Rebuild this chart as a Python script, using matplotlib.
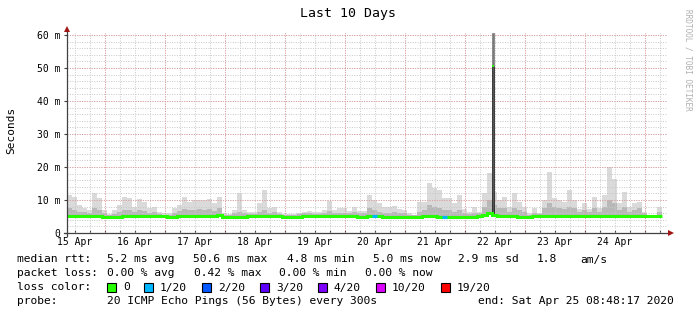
import datetime
import numpy as np
import matplotlib
matplotlib.use("Agg")
from matplotlib import pyplot as plt
from matplotlib.lines import Line2D
from matplotlib.patches import Rectangle

W, H = 697, 315
MONO = "DejaVu Sans Mono"

# probe window: 10 days ending at this time, values consolidated in 2 hour bins
end_time = datetime.datetime(2020, 4, 25, 8, 48, 17)
span_hours = 240
bin_hours = 2.0

# upper edge of the smoke (slowest ping of the bin), ms
smoke_top_ms = [
    11.5, 10.8, 8.5, 7.5, 7.0, 12.2, 10.5, 7.0, 5.8, 7.0,
    8.5, 10.8, 10.5, 8.0, 10.2, 9.5, 7.5, 7.8, 6.5, 6.0,
    6.0, 7.5, 8.5, 10.8, 9.5, 10.0, 10.0, 10.0, 10.2, 9.0,
    10.8, 6.0, 5.8, 7.0, 12.0, 7.0, 6.5, 6.5, 9.0, 13.0,
    7.5, 8.0, 6.5, 5.8, 5.8, 5.8, 6.2, 6.5, 6.8, 6.5,
    6.5, 7.0, 9.8, 7.0, 7.5, 7.5, 6.8, 7.8, 6.7, 6.8,
    11.5, 10.0, 9.0, 8.0, 7.8, 8.2, 7.2, 7.0, 6.0, 5.6,
    9.5, 9.5, 15.0, 13.5, 13.0, 10.5, 10.5, 9.0, 11.5, 7.2,
    6.5, 7.8, 6.5, 12.0, 18.3, 12.5, 10.0, 11.0, 7.8, 12.0,
    9.5, 8.0, 6.0, 7.5, 6.0, 10.0, 18.5, 10.5, 10.0, 9.5,
    13.0, 10.0, 7.2, 9.0, 7.2, 10.8, 7.5, 11.5, 20.0, 16.5,
    9.0, 12.5, 7.8, 9.0, 9.5, 6.5, 5.6, 5.6, 8.0,
]

# upper edge of the denser (darker) part of the smoke, ms
smoke_mid_ms = [
    7.5, 7.0, 6.5, 6.5, 6.2, 7.5, 7.0, 6.0, 5.5, 5.8,
    6.5, 7.0, 7.0, 6.5, 7.0, 6.8, 6.2, 6.5, 5.8, 5.6,
    5.6, 6.2, 6.8, 7.2, 7.0, 7.0, 7.2, 7.0, 7.2, 6.8,
    7.5, 5.6, 5.5, 6.0, 6.5, 6.0, 5.8, 5.8, 6.5, 7.0,
    6.2, 6.5, 5.8, 5.5, 5.5, 5.5, 5.8, 6.0, 6.0, 5.8,
    5.8, 6.0, 6.8, 6.0, 6.2, 6.2, 6.0, 6.5, 6.0, 6.0,
    7.5, 7.0, 6.5, 6.2, 6.2, 6.5, 6.0, 6.0, 5.5, 5.4,
    6.5, 7.0, 8.5, 8.0, 7.5, 7.0, 7.0, 6.5, 7.0, 6.0,
    5.8, 6.2, 6.0, 8.0, 10.0, 8.5, 7.5, 7.5, 6.5, 7.5,
    7.0, 6.5, 5.6, 6.2, 5.8, 7.5, 9.0, 8.0, 7.5, 7.2,
    8.0, 7.5, 6.5, 7.0, 6.5, 7.5, 6.5, 8.0, 10.0, 9.0,
    7.0, 8.0, 6.5, 7.0, 7.5, 6.0, 5.4, 5.4, 6.5,
]

# median rtt per bin, ms
median_ms = [
    5.0, 5.0, 5.1, 5.1, 5.1, 5.2, 5.1, 4.8, 4.7, 4.7,
    4.9, 5.1, 5.1, 5.1, 5.0, 5.1, 5.0, 5.0, 5.0, 5.0,
    4.8, 4.9, 5.0, 5.0, 5.0, 5.0, 5.1, 5.1, 5.1, 5.2,
    5.6, 4.9, 4.8, 4.8, 4.9, 4.9, 5.0, 5.0, 5.1, 5.1,
    5.0, 5.0, 5.0, 4.9, 4.9, 4.9, 4.9, 5.0, 5.0, 5.1,
    5.1, 5.2, 5.2, 5.1, 5.1, 5.0, 5.0, 5.0, 4.9, 4.9,
    5.0, 5.0, 5.0, 4.9, 4.9, 4.9, 4.9, 4.8, 4.8, 4.8,
    4.9, 5.0, 5.0, 5.0, 4.9, 4.9, 4.8, 4.8, 4.9, 4.8,
    4.8, 4.8, 5.0, 5.6, 6.0, 5.5, 5.1, 5.0, 5.0, 5.0,
    4.9, 4.9, 4.9, 5.0, 5.0, 5.2, 5.3, 5.3, 5.3, 5.3,
    5.2, 5.1, 5.0, 5.0, 5.0, 5.1, 5.1, 5.3, 5.3, 5.2,
    5.1, 5.0, 5.0, 5.1, 5.3, 5.0, 5.0, 5.0, 5.0,
]

# bins with packet loss: (bin index, lost pings out of 20)
loss_events = [(61, 1), (75, 1)]

# the big spike on 22 Apr
spike_hour = 170.3
spike_top_ms = 60.5
spike_median_ms = 50.6

loss_levels = ["0", "1/20", "2/20", "3/20", "4/20", "10/20", "19/20"]
loss_colors = ["#26ff00", "#00b8ff", "#0059ff", "#5e00ff", "#7e00ff", "#dd00ff", "#ff0000"]
loss_of = {0: 0, 1: 1, 2: 2, 3: 3, 4: 4, 10: 5, 19: 6}

y_ticks = [0, 10, 20, 30, 40, 50, 60]
y_tick_labels = ["0", "10 m", "20 m", "30 m", "40 m", "50 m", "60 m"]


def px(x, y):
    return x / W, 1 - y / H


fig = plt.figure(figsize=(W / 100, H / 100), dpi=100)
fig.patch.set_facecolor("white")
ax = fig.add_axes([67 / W, (H - 233) / H, 600 / W, 200 / H])
ax.set_xlim(0, span_hours)
ax.set_ylim(0, 60.6)

edges = np.arange(len(smoke_top_ms) + 1) * bin_hours
med = np.array(median_ms)
ax.stairs(smoke_top_ms, edges, baseline=med, fill=True, color="#dadada", lw=0, zorder=1)
ax.stairs(smoke_mid_ms, edges, baseline=med, fill=True, color="#b8b8b8", lw=0, zorder=1.1)

# spike column
ax.add_patch(Rectangle((spike_hour - 0.5, 5.0), 1.0, spike_median_ms - 5.0,
                       facecolor="#555555", edgecolor="#111111", lw=0.5, zorder=3))
ax.add_patch(Rectangle((spike_hour - 0.5, spike_median_ms), 1.0, spike_top_ms - spike_median_ms,
                       facecolor="#7a7a7a", edgecolor="#666666", lw=0.4, zorder=3))

# grid: midnights major, 6 hours minor
start = end_time - datetime.timedelta(hours=span_hours)
first_midnight = (datetime.datetime(start.year, start.month, start.day) + datetime.timedelta(days=1) - start)
h0 = first_midnight.total_seconds() / 3600
majors = np.arange(h0, span_hours, 24)
minors = np.arange(h0 - 12, span_hours, 6)
minors = minors[(minors > 0)]
for h in minors:
    ax.axvline(h, color="#c8c8c8", lw=0.7, ls=(0, (1, 1.5)), zorder=2)
for v in np.arange(2, 61, 2):
    ax.axhline(v, color="#c8c8c8", lw=0.7, ls=(0, (1, 1.5)), zorder=2)
for h in majors:
    ax.axvline(h, color="#e39a9a", lw=0.7, ls=(0, (1, 1.5)), zorder=2.1)
for v in y_ticks[1:]:
    ax.axhline(v, color="#e39a9a", lw=0.7, ls=(0, (1, 1.5)), zorder=2.1)

# median line, coloured by loss
ax.stairs(median_ms, edges, baseline=None, color=loss_colors[0], lw=2.2, zorder=4)
for b, lost in loss_events:
    ax.stairs([median_ms[b]], edges[b:b + 2], baseline=None, color=loss_colors[loss_of[lost]], lw=2.2, zorder=4.1)
ax.plot([spike_hour], [spike_median_ms], "s", color=loss_colors[0], ms=2, mew=0, zorder=5)

for s in ax.spines.values():
    s.set_visible(False)
ax.set_xticks(minors)
ax.set_xticklabels([])
ax.set_yticks(y_ticks)
ax.set_yticklabels(y_tick_labels, family=MONO, fontsize=7.0)
ax.tick_params(axis="y", length=2, width=0.8, color="#404040", pad=3)
ax.tick_params(axis="x", direction="in", length=2, width=0.8, color="#404040")

# day labels at noon
for h in majors - 12:
    day = start + datetime.timedelta(hours=float(h))
    ax.text(h, -0.046, day.strftime("%d %b").lstrip("0"), transform=ax.get_xaxis_transform(),
            ha="center", va="center", family=MONO, fontsize=7.0)

# axes with arrows
fig.add_artist(Line2D([px(67, 0)[0]] * 2, [px(0, 236)[1], px(0, 30)[1]], color="#404040", lw=0.9))
fig.add_artist(Line2D([px(64, 0)[0], px(670, 0)[0]], [px(0, 233)[1]] * 2, color="#404040", lw=0.9))
fig.add_artist(Line2D([px(67, 0)[0]], [px(0, 29)[1]], marker="^", color="#a11515", ms=4.5, mew=0))
fig.add_artist(Line2D([px(671, 0)[0]], [px(0, 233)[1]], marker=">", color="#a11515", ms=4.5, mew=0))

fig.text(*px(348, 14), "Last 10 Days", ha="center", va="center", family=MONO, fontsize=9.5)
fig.text(*px(11, 130), "Seconds", ha="center", va="center", rotation=90, family=MONO, fontsize=8)
fig.text(*px(688, 60), "RRDTOOL / TOBI OETIKER", ha="center", va="center", rotation=270,
         family=MONO, fontsize=5.6, color="#b0b0b0")

# legend block
LEG = 8.1
rows = [
    (259.5, [(17, "median rtt:"), (107, "5.2 ms avg"), (193, "50.6 ms max"), (287, "4.8 ms min"),
             (373, "5.0 ms now"), (458, "2.9 ms sd"), (537, "1.8"), (580, "am/s")]),
    (273.5, [(17, "packet loss:"), (107, "0.00 % avg"), (194, "0.42 % max"), (279, "0.00 % min"),
             (365, "0.00 % now")]),
    (287.5, [(17, "loss color:")]),
    (301.5, [(17, "probe:"), (107, "20 ICMP Echo Pings (56 Bytes) every 300s"),
             (478, "end: Sat Apr 25 08:48:17 2020")]),
]
for y, items in rows:
    for x, t in items:
        fig.text(*px(x, y), t, ha="left", va="center", family=MONO, fontsize=LEG)

label_x = [123, 160, 218, 276, 334, 392, 457]
for x, lab, col in zip(label_x, loss_levels, loss_colors):
    fig.add_artist(Rectangle(px(x - 16, 292), 9 / W, 9 / H, transform=fig.transFigure,
                             facecolor=col, edgecolor="black", lw=0.8))
    fig.text(*px(x, 287.5), lab, ha="left", va="center", family=MONO, fontsize=LEG)

fig.savefig("out.png", dpi=100)
